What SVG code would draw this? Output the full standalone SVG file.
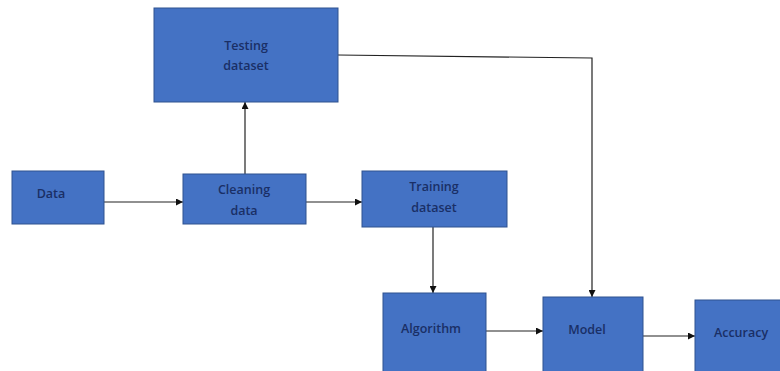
<svg xmlns="http://www.w3.org/2000/svg" width="780" height="371" viewBox="0 0 780 371">
<defs>
<style>
.box{fill:#4472C4;stroke:#2F528F;stroke-width:1}
.lbl{font-family:"Open Sans","Liberation Sans",sans-serif;font-size:12.5px;font-weight:600;fill:#1A2F66;text-anchor:middle}
.conn{fill:none;stroke:#222;stroke-width:1.2}
</style>
<marker id="arr" viewBox="0 0 10 10" refX="10" refY="5" markerWidth="7" markerHeight="7" orient="auto-start-reverse" markerUnits="userSpaceOnUse">
<path d="M0,0 L10,5 L0,10 z" fill="#111"/>
</marker>
</defs>
<rect width="780" height="371" fill="#fff"/>
<g id="connectors">
<line class="conn" x1="104" y1="202" x2="183" y2="202" marker-end="url(#arr)"/>
<line class="conn" x1="306" y1="202" x2="362" y2="202" marker-end="url(#arr)"/>
<line class="conn" x1="245" y1="174" x2="245" y2="102" marker-end="url(#arr)"/>
<polyline class="conn" points="338,55 592,58 592,297" marker-end="url(#arr)"/>
<line class="conn" x1="433" y1="227" x2="433" y2="293" marker-end="url(#arr)"/>
<line class="conn" x1="486" y1="331" x2="543" y2="331" marker-end="url(#arr)"/>
<line class="conn" x1="643" y1="336" x2="695" y2="336" marker-end="url(#arr)"/>
</g>
<g id="testing">
<rect class="box" x="154" y="8" width="184" height="94"/>
<text class="lbl" x="246" y="50">Testing</text>
<text class="lbl" x="246" y="70">dataset</text>
</g>
<g id="data">
<rect class="box" x="12" y="171" width="92" height="53"/>
<text class="lbl" x="51" y="198">Data</text>
</g>
<g id="cleaning">
<rect class="box" x="183" y="174" width="123" height="50"/>
<text class="lbl" x="244" y="194">Cleaning</text>
<text class="lbl" x="244" y="215">data</text>
</g>
<g id="training">
<rect class="box" x="362" y="171" width="145" height="56"/>
<text class="lbl" x="434" y="191">Training</text>
<text class="lbl" x="434" y="212">dataset</text>
</g>
<g id="algorithm">
<rect class="box" x="383" y="293" width="103" height="80"/>
<text class="lbl" x="431" y="333">Algorithm</text>
</g>
<g id="model">
<rect class="box" x="543" y="297" width="100" height="76"/>
<text class="lbl" x="587" y="334">Model</text>
</g>
<g id="accuracy">
<rect class="box" x="695" y="300" width="90" height="73"/>
<text class="lbl" x="741" y="337">Accuracy</text>
</g>
</svg>
